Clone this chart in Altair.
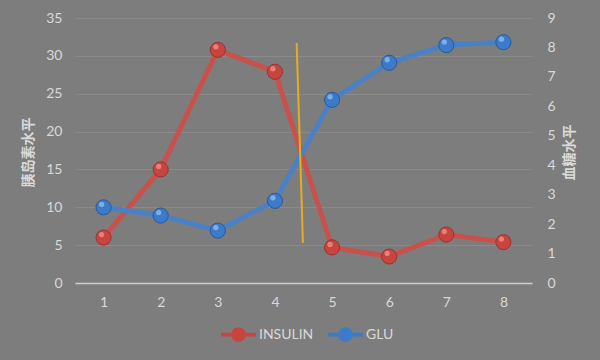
import altair as alt
import pandas as pd

# ---- data ----
x_vals = [1, 2, 3, 4, 5, 6, 7, 8]
insulin = [6.0, 15.0, 30.8, 27.9, 4.7, 3.5, 6.4, 5.4]
glu = [2.57, 2.29, 1.78, 2.79, 6.22, 7.48, 8.08, 8.18]
series_names = ["INSULIN", "GLU"]
series_colors = ["#c8453f", "#3b7bca"]
line_colors = ["#c9514b", "#4a80c4"]
divider_x = [4.38, 4.49]
divider_y = [31.7, 5.3]
left_ticks = [0, 5, 10, 15, 20, 25, 30, 35]
right_ticks = [0, 1, 2, 3, 4, 5, 6, 7, 8, 9]

LABEL = "#d9d9d9"
FONT = "Lato"
CJK = "Noto Sans CJK SC"

df_ins = pd.DataFrame({"x": x_vals, "value": insulin, "series": series_names[0]})
df_glu = pd.DataFrame({"x": x_vals, "value": glu, "series": series_names[1]})
df_div = pd.DataFrame({"x": [divider_x[0]], "x2": [divider_x[1]],
                       "y": [divider_y[0]], "y2": [divider_y[1]]})

xscale = alt.Scale(domain=[0.5, 8.5], nice=False, zero=False)
x_axis = alt.Axis(values=x_vals, format="d", grid=False, ticks=False, tickSize=0,
                  domain=True, domainColor="#d0d0d0", domainWidth=1.5,
                  labelPadding=12, labelColor=LABEL, labelFont=FONT, labelFontSize=14,
                  title=None)
X = alt.X("x:Q", scale=xscale, axis=x_axis)

legend_path = ("M-1,-0.11L1,-0.11L1,0.11L-1,0.11Z"
               "M-0.42,0A0.42,0.42,0,1,1,0.42,0A0.42,0.42,0,1,1,-0.42,0Z")
color = alt.Color(
    "series:N",
    scale=alt.Scale(domain=series_names, range=series_colors),
    legend=alt.Legend(orient="none", legendX=146, legendY=299, direction="horizontal",
                      title=None, symbolType=legend_path, symbolSize=1225,
                      symbolStrokeWidth=0, symbolOpacity=1,
                      labelColor=LABEL, labelFont=FONT, labelFontSize=14,
                      labelOffset=3, columnPadding=14),
)

yL_scale = alt.Scale(domain=[0, 35], nice=False, zero=True)
yL = alt.Y("value:Q", scale=yL_scale,
           axis=alt.Axis(values=left_ticks, grid=True, gridColor="#8a8a8a", gridWidth=1,
                         ticks=False, tickSize=0, domain=False, labelPadding=13,
                         labelColor=LABEL, labelFont=FONT, labelFontSize=14,
                         title="胰岛素水平", titleFont=CJK, titleFontSize=14,
                         titleFontWeight="bold", titleColor=LABEL,
                         titleAngle=270, titleX=-47, titleY=134,
                         titleAlign="center", titleBaseline="middle"))

yR_scale = alt.Scale(domain=[0, 9], nice=False, zero=True)
yR = alt.Y("value:Q", scale=yR_scale,
           axis=alt.Axis(orient="right", values=right_ticks, grid=False, ticks=False,
                         tickSize=0, domain=False, labelPadding=15,
                         labelColor=LABEL, labelFont=FONT, labelFontSize=14,
                         title="血糖水平", titleFont=CJK, titleFontSize=14,
                         titleFontWeight="bold", titleColor=LABEL,
                         titleAngle=270, titleX=37, titleY=134,
                         titleAlign="center", titleBaseline="middle"))

base_ins = alt.Chart(df_ins)
left = alt.layer(
    base_ins.mark_line(color=line_colors[0], strokeWidth=5).encode(x=X, y=yL),
    base_ins.mark_circle(size=230, opacity=1, stroke="#8e2a26", strokeWidth=0.8).encode(
        x=X, y=yL, color=color),
    base_ins.mark_circle(size=28, opacity=0.55, color="#ffb0a8", xOffset=-2, yOffset=-3).encode(
        x=X, y=yL),
)

base_glu = alt.Chart(df_glu)
right = alt.layer(
    base_glu.mark_line(color=line_colors[1], strokeWidth=5).encode(x=X, y=yR),
    base_glu.mark_circle(size=230, opacity=1, stroke="#1f4f8e", strokeWidth=0.8).encode(
        x=X, y=yR, color=color),
    base_glu.mark_circle(size=28, opacity=0.55, color="#b8d8ff", xOffset=-2, yOffset=-3).encode(
        x=X, y=yR),
)

divider = alt.Chart(df_div).mark_rule(color="#e6ac1e", strokeWidth=2).encode(
    x=X, x2="x2:Q",
    y=alt.Y("y:Q", scale=alt.Scale(domain=[0, 35], nice=False, zero=True), axis=None),
    y2="y2:Q",
)

chart = alt.layer(left, right, divider).resolve_scale(y="independent").properties(
    width=457, height=265,
    autosize=alt.AutoSizeParams(type="none"),
    padding={"left": 75, "top": 18, "right": 68, "bottom": 77},
    background="#7d7d7d",
).configure_view(stroke=None)

chart.save("out.html", embed_options={"renderer": "svg", "actions": False})
